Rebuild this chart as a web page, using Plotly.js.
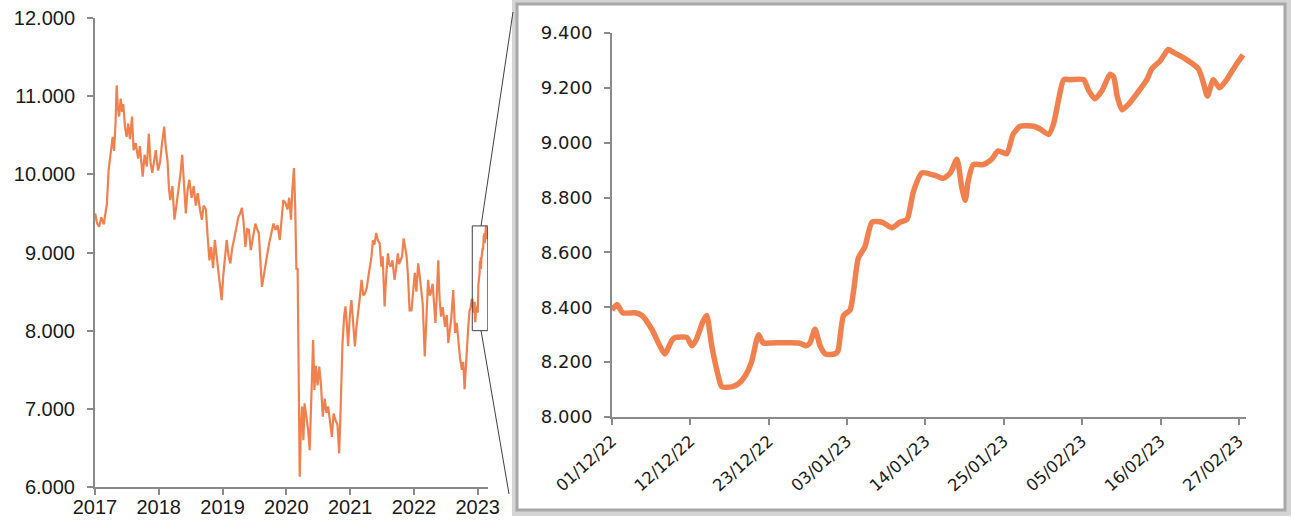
<!DOCTYPE html>
<html><head><meta charset="utf-8">
<script src="https://cdn.plot.ly/plotly-3.0.1.min.js"></script>
<style>html,body{margin:0;padding:0;background:#fff;}#chart{width:1292px;height:521px;}</style>
</head><body><div id="chart"></div>
<script>
// ---- long-term series (2017 - Nov 2022) ----
const longDates = [
 '2017-01-02','2017-01-12','2017-01-24','2017-02-06','2017-02-20','2017-03-01','2017-03-10','2017-03-20','2017-03-28','2017-04-05',
 '2017-04-12','2017-04-20','2017-04-28','2017-05-05','2017-05-12','2017-05-19','2017-05-28','2017-06-05','2017-06-12','2017-06-22',
 '2017-07-01','2017-07-10','2017-07-20','2017-08-01','2017-08-10','2017-08-22','2017-09-05','2017-09-15','2017-10-01','2017-10-12',
 '2017-10-25','2017-11-05','2017-11-15','2017-11-25','2017-12-05','2017-12-15','2017-12-28',
 '2018-01-08','2018-01-20','2018-02-01','2018-02-10','2018-02-20','2018-03-01','2018-03-08','2018-03-20','2018-04-01','2018-04-12',
 '2018-04-22','2018-05-05','2018-05-15','2018-05-25','2018-06-05','2018-06-15','2018-06-25','2018-07-08','2018-07-20','2018-08-01',
 '2018-08-12','2018-08-25','2018-09-05','2018-09-15','2018-09-28','2018-10-08','2018-10-18','2018-10-28','2018-11-08','2018-11-18',
 '2018-11-28','2018-12-08','2018-12-18','2018-12-27',
 '2019-01-05','2019-01-12','2019-01-25','2019-02-05','2019-02-15','2019-02-25','2019-03-08','2019-03-20','2019-04-01','2019-04-12',
 '2019-04-22','2019-05-01','2019-05-12','2019-05-22','2019-06-01','2019-06-12','2019-06-25','2019-07-08','2019-07-18','2019-07-28',
 '2019-08-08','2019-08-15','2019-08-25','2019-09-05','2019-09-15','2019-09-25','2019-10-08','2019-10-20','2019-11-01','2019-11-12',
 '2019-11-25',
 '2019-12-05','2019-12-15','2019-12-28','2020-01-08','2020-01-18','2020-01-28','2020-02-05','2020-02-14','2020-02-21','2020-02-28',
 '2020-03-06','2020-03-12','2020-03-18','2020-03-25','2020-04-01','2020-04-08','2020-04-15','2020-04-25','2020-05-05','2020-05-14',
 '2020-05-22','2020-06-03','2020-06-10','2020-06-18','2020-06-28','2020-07-08','2020-07-18','2020-07-28','2020-08-08','2020-08-18',
 '2020-08-28','2020-09-08','2020-09-18','2020-09-28','2020-10-08','2020-10-20','2020-10-30','2020-11-08','2020-11-18','2020-11-28',
 '2020-12-05','2020-12-14','2020-12-20','2020-12-30',
 '2021-01-08','2021-01-18','2021-01-28','2021-02-06','2021-02-14','2021-02-24','2021-03-07','2021-03-17','2021-03-27','2021-04-06',
 '2021-04-15','2021-04-25','2021-05-03','2021-05-11','2021-05-20','2021-05-30','2021-06-09','2021-06-19','2021-06-28','2021-07-06',
 '2021-07-17','2021-07-26','2021-08-05','2021-08-13','2021-08-21','2021-08-31','2021-09-12','2021-09-21','2021-10-01','2021-10-08',
 '2021-10-16','2021-10-25','2021-11-03','2021-11-12','2021-11-20','2021-11-28','2021-12-07','2021-12-18','2021-12-27',
 '2022-01-06','2022-01-15','2022-01-25','2022-02-03','2022-02-10','2022-02-20','2022-03-04','2022-03-12','2022-03-23','2022-04-01',
 '2022-04-08','2022-04-18','2022-04-27','2022-05-04','2022-05-12','2022-05-20','2022-05-28','2022-06-05','2022-06-15','2022-06-28',
 '2022-07-08','2022-07-17','2022-07-25','2022-08-02','2022-08-14','2022-08-25','2022-09-03','2022-09-13','2022-09-22','2022-10-02',
 '2022-10-10','2022-10-18','2022-10-26','2022-11-02','2022-11-08','2022-11-15','2022-11-22','2022-11-27'
];
const longValues = [
 9500,9380,9330,9450,9360,9480,9620,10050,10230,10350,
 10480,10300,10620,11140,10850,10740,10970,10800,10900,10600,
 10480,10650,10450,10740,10310,10400,10200,10360,9970,10250,
 10100,10520,10150,10020,10200,10310,10050,
 10150,10400,10610,10350,10180,9800,9670,9850,9420,9600,
 9760,10000,10250,9900,9500,9800,9930,9700,9850,9600,
 9760,9550,9420,9600,9550,9200,8900,9070,8800,9160,
 8950,8740,8550,8390,
 8700,8900,9160,8950,8860,9050,9160,9300,9450,9500,
 9570,9400,9070,9300,9290,9030,9200,9370,9300,9250,
 8800,8560,8700,8860,9000,9120,9250,9370,9290,9350,
 9160,
 9450,9670,9630,9550,9700,9420,9800,10080,9600,8780,
 8800,7580,6130,6800,7030,6600,7070,6900,6730,6470,
 6950,7880,7240,7550,7300,7540,7300,6900,7130,6950,
 7030,6800,6640,6940,6860,6800,6430,7050,7840,8200,
 8310,8050,7800,8200,
 8390,8100,7800,8050,8180,8400,8650,8450,8480,8550,
 8690,8860,8950,9160,9100,9250,9150,9120,8820,8950,
 8310,8700,8990,8850,8820,8900,8650,8800,8990,8850,
 8900,8950,9180,9050,8950,8700,8260,8260,8550,
 8740,8500,8860,8700,8560,8350,7670,8200,8650,8450,
 8480,8600,8300,8100,8450,8900,8400,8180,8300,8050,
 8200,7840,8000,8140,8520,7970,8100,7800,7650,7500,
 7600,7250,7600,7850,8050,8250,8300,8390
];

// ---- zoomed period (Dec 2022 - Feb 2023) ----
const zoomDates = [
 '2022-12-01 00:00','2022-12-01 17:00','2022-12-02 12:00','2022-12-04 05:00','2022-12-05 05:00','2022-12-06 14:00','2022-12-07 17:00','2022-12-08 10:00','2022-12-09 10:00','2022-12-09 22:00',
 '2022-12-11 12:00','2022-12-12 05:00','2022-12-12 19:00','2022-12-13 19:00','2022-12-14 07:00','2022-12-15 00:00','2022-12-15 22:00','2022-12-16 10:00','2022-12-17 19:00','2022-12-18 17:00',
 '2022-12-19 17:00','2022-12-20 14:00','2022-12-21 07:00','2022-12-21 14:00','2022-12-22 05:00','2022-12-23 10:00','2022-12-27 05:00','2022-12-28 07:00','2022-12-28 19:00','2022-12-29 12:00',
 '2022-12-30 05:00','2022-12-30 22:00','2023-01-01 07:00','2023-01-01 17:00','2023-01-02 12:00','2023-01-03 10:00','2023-01-03 22:00','2023-01-04 14:00','2023-01-05 12:00','2023-01-06 12:00',
 '2023-01-07 22:00','2023-01-09 07:00','2023-01-10 10:00','2023-01-11 10:00','2023-01-12 07:00','2023-01-13 12:00','2023-01-15 10:00','2023-01-16 12:00','2023-01-17 12:00','2023-01-18 10:00',
 '2023-01-19 02:00','2023-01-19 14:00','2023-01-20 00:00','2023-01-20 17:00','2023-01-22 02:00','2023-01-23 07:00','2023-01-24 05:00','2023-01-25 10:00','2023-01-26 07:00','2023-01-27 07:00',
 '2023-01-29 05:00','2023-01-30 02:00','2023-01-31 07:00','2023-02-01 00:00','2023-02-01 17:00','2023-02-02 10:00','2023-02-03 07:00','2023-02-05 05:00','2023-02-05 22:00','2023-02-06 19:00',
 '2023-02-07 19:00','2023-02-08 22:00','2023-02-09 10:00','2023-02-09 22:00','2023-02-10 14:00','2023-02-11 12:00','2023-02-12 17:00','2023-02-14 02:00','2023-02-14 19:00','2023-02-16 00:00',
 '2023-02-17 02:00','2023-02-17 19:00','2023-02-19 05:00','2023-02-21 07:00','2023-02-22 00:00','2023-02-22 14:00','2023-02-23 10:00','2023-02-24 07:00','2023-02-25 07:00','2023-02-26 12:00',
 '2023-02-27 14:00'
];
const zoomValues = [
 8390,8410,8380,8380,8370,8320,8260,8230,8280,8290,
 8290,8260,8280,8350,8370,8260,8150,8110,8110,8120,
 8150,8200,8280,8300,8270,8270,8270,8260,8270,8320,
 8260,8230,8230,8240,8370,8390,8460,8580,8620,8710,
 8710,8690,8710,8720,8820,8890,8880,8870,8890,8940,
 8840,8790,8860,8920,8920,8940,8970,8960,9030,9060,
 9060,9050,9030,9070,9160,9230,9230,9230,9190,9160,
 9190,9250,9240,9170,9120,9140,9180,9230,9270,9300,
 9340,9330,9310,9270,9220,9170,9230,9200,9230,9280,
 9320
];

// ---- ticks ----
const yearTicks = ['2017-01-01','2018-01-01','2019-01-01','2020-01-01','2021-01-01','2022-01-01','2023-01-01'];
const yearLabels = ['2017','2018','2019','2020','2021','2022','2023'];
const leftYTicks = [6000,7000,8000,9000,10000,11000,12000];
const leftYLabels = ['6.000','7.000','8.000','9.000','10.000','11.000','12.000'];
const zoomTickDates = ['2022-12-01','2022-12-12','2022-12-23','2023-01-03','2023-01-14','2023-01-25','2023-02-05','2023-02-16','2023-02-27'];
const zoomTickLabels = ['01/12/22','12/12/22','23/12/22','03/01/23','14/01/23','25/01/23','05/02/23','16/02/23','27/02/23'];
const rightYTicks = [8000,8200,8400,8600,8800,9000,9200,9400];
const rightYLabels = ['8.000','8.200','8.400','8.600','8.800','9.000','9.200','9.400'];

const W = 1292, H = 521;
const px = v => v / W, py = v => 1 - v / H;
const ORANGE = '#F0804E', AXIS = '#8a8a8a', TXT = '#1a1a1a';

const leftXRange = ['2017-01-01', '2023-03-01'];
const leftYRange = [6000, 12000];
const leftPx = [95, 488], leftPy = [487, 18];

// rectangle marking the zoom window (derived from the zoom data)
const zStart = zoomDates[0].slice(0, 10), zEnd = '2023-02-28';
const zMax = Math.max(...zoomValues);
const rightYRange = [8000, 9400];
const t0 = Date.parse(leftXRange[0]), t1 = Date.parse(leftXRange[1]);
const toPxX = d => leftPx[0] + (Date.parse(d.slice(0,10)) - t0) / (t1 - t0) * (leftPx[1] - leftPx[0]);
const toPxY = v => leftPy[0] + (v - leftYRange[0]) / (leftYRange[1] - leftYRange[0]) * (leftPy[1] - leftPy[0]);
const rectMidX = (toPxX(zStart) + toPxX(zEnd)) / 2 + 1;
const rectTop = toPxY(zMax), rectBot = toPxY(rightYRange[0]);

const tickFontL = {family: 'Liberation Sans, Arial, sans-serif', size: 20, color: TXT};
const tickFontR = {family: 'DejaVu Sans, sans-serif', size: 18, color: TXT};

const traces = [
  {x: longDates.concat(zoomDates), y: longValues.concat(zoomValues), type: 'scatter', mode: 'lines',
   line: {color: ORANGE, width: 2.2}, xaxis: 'x', yaxis: 'y', hoverinfo: 'skip'},
  {x: zoomDates, y: zoomValues, type: 'scatter', mode: 'lines',
   line: {color: ORANGE, width: 5.5, shape: 'spline', smoothing: 0.6}, xaxis: 'x2', yaxis: 'y2', hoverinfo: 'skip'}
];

const layout = {
  width: W, height: H, margin: {l: 0, r: 0, t: 0, b: 0},
  paper_bgcolor: '#ffffff', plot_bgcolor: 'rgba(0,0,0,0)', showlegend: false,
  xaxis: {domain: [px(leftPx[0]), px(leftPx[1])], type: 'date', range: leftXRange, anchor: 'y',
          tickmode: 'array', tickvals: yearTicks, ticktext: yearLabels, ticks: 'outside', ticklen: 6, tickwidth: 2, tickcolor: AXIS,
          showline: true, linecolor: AXIS, linewidth: 2, showgrid: false, zeroline: false, tickfont: tickFontL, ticklabelstandoff: -5},
  yaxis: {domain: [py(leftPy[0]), py(leftPy[1])], range: leftYRange, anchor: 'x',
          tickmode: 'array', tickvals: leftYTicks, ticktext: leftYLabels, ticks: 'outside', ticklen: 6, tickwidth: 2, tickcolor: AXIS,
          showline: true, linecolor: AXIS, linewidth: 2, showgrid: false, zeroline: false, tickfont: tickFontL, ticklabelstandoff: 8},
  xaxis2: {domain: [px(612), px(1246)], type: 'date', range: [zStart, zEnd], anchor: 'y2',
           tickmode: 'array', tickvals: zoomTickDates, ticktext: zoomTickLabels, tickangle: -42, ticks: 'outside', ticklen: 6, tickwidth: 2, tickcolor: AXIS,
           showline: true, linecolor: AXIS, linewidth: 2, showgrid: false, zeroline: false, tickfont: {family: 'DejaVu Sans, sans-serif', size: 16.5, color: TXT}},
  yaxis2: {domain: [py(417), py(33)], range: rightYRange, anchor: 'x2',
           tickmode: 'array', tickvals: rightYTicks, ticktext: rightYLabels, ticks: 'outside', ticklen: 6, tickwidth: 2, tickcolor: AXIS,
           showline: true, linecolor: AXIS, linewidth: 2, showgrid: false, zeroline: false, tickfont: tickFontR, ticklabelstandoff: 8},
  shapes: [
    // frame shadow + frame of the zoom panel
    {type: 'rect', xref: 'paper', yref: 'paper', x0: px(515), x1: px(1288), y0: py(513), y1: py(1),
     line: {color: '#d4d4d4', width: 6}, fillcolor: 'rgba(0,0,0,0)', layer: 'below'},
    {type: 'rect', xref: 'paper', yref: 'paper', x0: px(517), x1: px(1285), y0: py(510), y1: py(4),
     line: {color: '#a8a8a8', width: 3}, fillcolor: 'rgba(0,0,0,0)', layer: 'below'},
    // zoom window on the long chart
    {type: 'rect', xref: 'x', yref: 'y', x0: zStart, x1: zEnd, y0: rightYRange[0], y1: zMax,
     line: {color: '#404040', width: 1}, fillcolor: 'rgba(0,0,0,0)'},
    // connectors
    {type: 'line', xref: 'paper', yref: 'paper', x0: px(rectMidX), y0: py(rectTop), x1: px(513), y1: py(12),
     line: {color: '#404040', width: 1}},
    {type: 'line', xref: 'paper', yref: 'paper', x0: px(rectMidX), y0: py(rectBot), x1: px(509), y1: py(494),
     line: {color: '#404040', width: 1}}
  ]
};

Plotly.newPlot('chart', traces, layout, {staticPlot: true, displayModeBar: false});
</script>
</body></html>
